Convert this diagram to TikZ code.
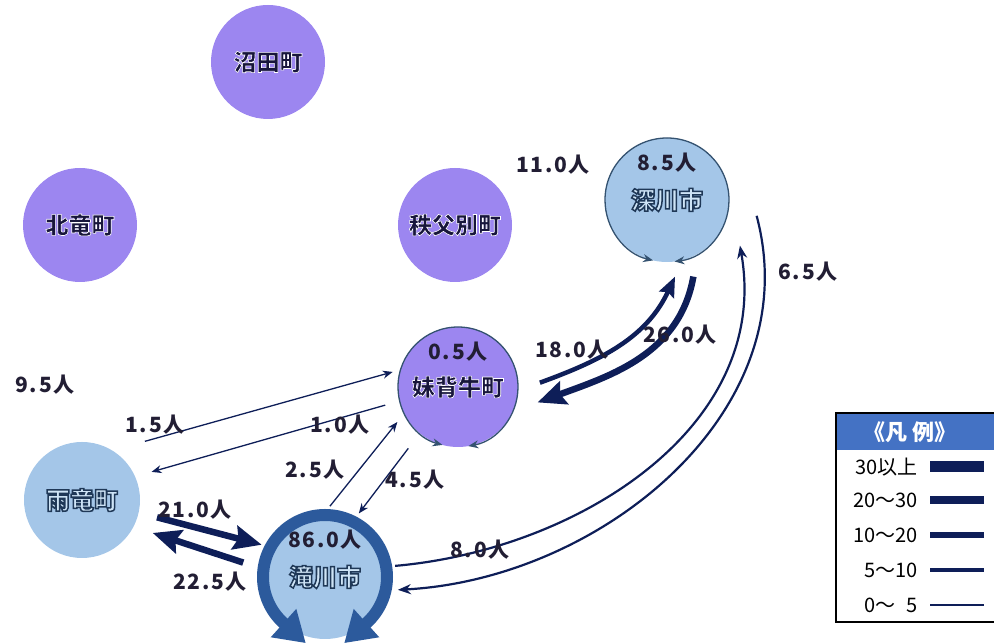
\documentclass[tikz,border=0pt]{standalone}
\usepackage{fontspec}
\setmainfont{Noto Sans CJK JP}
\newfontfamily\labfont[LetterSpace=8]{Noto Sans CJK JP}
\usetikzlibrary{arrows.meta,calc,positioning}

\definecolor{townpurple}{RGB}{156,134,240}
\definecolor{cityblue}{RGB}{164,198,232}
\definecolor{ringblue}{RGB}{44,90,156}
\definecolor{flownavy}{RGB}{14,30,88}
\definecolor{loopgrey}{RGB}{52,82,112}
\definecolor{headblue}{RGB}{68,114,196}
\definecolor{labdark}{RGB}{34,30,52}
\definecolor{namedark}{RGB}{24,22,60}
\definecolor{namelight}{RGB}{206,228,246}

% outlined names (fill + stroke in one text)
\newcommand{\townname}[1]{{\color{namedark}\special{pdf:code q 1 1 1 RG 2 Tr 0.6 w}#1\special{pdf:code Q}}}
\newcommand{\cityname}[1]{{\color{namelight}\special{pdf:code q 0.12 0.22 0.34 RG 2 Tr 1.5 w}#1\special{pdf:code Q}}}

\begin{document}
\begin{tikzpicture}[x=1pt,y=1pt,
  town/.style={circle,inner sep=0pt,minimum size=114pt,fill=townpurple,
    font=\fontsize{23}{26}\selectfont\bfseries},
  city/.style={circle,inner sep=0pt,fill=cityblue,
    font=\fontsize{24}{26}\selectfont\bfseries},
  cnt/.style={inner sep=1pt,text=labdark,font=\labfont\bfseries\fontsize{21}{24}\selectfont},
  loopline/.style={draw=loopgrey,line width=1.3pt,-{Stealth[length=10pt,width=8pt]}},
  ringline/.style={draw=ringblue,line width=12pt,-{Triangle[length=30pt,width=36pt]}},
  flowA/.style={draw=flownavy,line width=1.3pt,-{Stealth[length=10pt,width=8pt]}},
  flowB/.style={draw=flownavy,line width=2.2pt,-{Stealth[length=13pt,width=10pt]}},
  flowC/.style={draw=flownavy,line width=4.5pt,-{Stealth[length=20pt,width=16pt,inset=3pt]}},
  flowD/.style={draw=flownavy,line width=6.5pt,-{Stealth[length=28pt,width=24pt,inset=4pt]}},
  legtext/.style={anchor=east,inner sep=0pt,font=\fontsize{20}{22}\selectfont},
]
\useasboundingbox (0,0) rectangle (994,644);

\node[town] (numata) at (268,582) {\townname{沼田町}};
\node[town] (hokuryu) at (80,419) {\townname{北竜町}};
\node[town] (chippu) at (455,419) {\townname{秩父別町}};
\node[town,minimum size=120pt] (moseushi) at (458,257) {\townname{妹背牛町}};
\node[city,minimum size=124pt] (fukagawa) at (667,444) {\cityname{深川市}};
\node[city,minimum size=116pt] (uryu) at (82,144) {\cityname{雨竜町}};
\node[city,minimum size=124pt] (takikawa) at (325,67) {\cityname{滝川市}};

\node[cnt] (fukagawa-in) at ([yshift=37pt]fukagawa.center) {8.5人};
\node[cnt] (moseushi-in) at ([yshift=35pt]moseushi.center) {0.5人};
\node[cnt] (takikawa-in) at ([yshift=37pt]takikawa.center) {86.0人};

% flows within one place
\draw[loopline] ($(fukagawa)+(90:62pt)$) arc[start angle=90,end angle=257,radius=62pt];
\draw[loopline] ($(fukagawa)+(90:62pt)$) arc[start angle=90,end angle=-83,radius=62pt];
\draw[loopline] ($(moseushi)+(90:60pt)$) arc[start angle=90,end angle=255,radius=60pt];
\draw[loopline] ($(moseushi)+(90:60pt)$) arc[start angle=90,end angle=-80,radius=60pt];
\draw[ringline] ($(takikawa)+(90:62pt)$) arc[start angle=90,end angle=228,radius=62pt] -- ++(318:30pt);
\draw[ringline] ($(takikawa)+(90:62pt)$) arc[start angle=90,end angle=-48,radius=62pt] -- ++(222:30pt);

% flows between places
\draw[flowA] ($(uryu)+(43:86pt)$) -- ($(moseushi)+(167:67pt)$);
\draw[flowA] ($(moseushi)+(194:75pt)$) -- ($(uryu)+(22:75pt)$);
\draw[flowA] ($(takikawa)+(86:71pt)$) -- ($(moseushi)+(210:70pt)$);
\draw[flowA] ($(moseushi)+(231:79pt)$) -- ($(takikawa)+(62:72pt)$);
\draw[flowD] ($(uryu)+(-13:77pt)$) -- ($(takikawa)+(153:71pt)$);
\draw[flowD] ($(takikawa)+(170:83pt)$) -- ($(uryu)+(-25:78pt)$);
\draw[flowB] ($(takikawa)+(9:71pt)$) to[out=5,in=-80] ($(fukagawa)+(-32:86pt)$);
\draw[flowB] ($(fukagawa)+(-10:91pt)$) to[out=-75,in=3] ($(takikawa)+(-10:74pt)$);
\draw[flowC] ($(moseushi)+(3:82pt)$) to[out=20,in=-115] ($(fukagawa)+(-84:77pt)$);
\draw[flowD] ($(fukagawa)+(-71:81pt)$) to[out=-100,in=20] ($(moseushi)+(-11:81pt)$);

\node[cnt] (lab-fuka) at (553,479) {11.0人};
\node[cnt] (lab-uryu) at (45,259) {9.5人};
\node[cnt] (lab-fm) at (808,372) {6.5人};
\node[cnt] (lab-mf) at (572,294) {18.0人};
\node[cnt] (lab-fmo) at (680,309) {26.0人};
\node[cnt] (lab-um) at (155,219) {1.5人};
\node[cnt] (lab-mu) at (340,219) {1.0人};
\node[cnt] (lab-tm) at (315,174) {2.5人};
\node[cnt] (lab-mt) at (415,164) {4.5人};
\node[cnt] (lab-ut) at (195,134) {21.0人};
\node[cnt] (lab-tu) at (210,62) {22.5人};
\node[cnt] (lab-tf) at (480,94) {8.0人};

% legend
\fill[headblue] (836,194) rectangle (1000,231);
\draw[line width=1.5pt] (836,22) rectangle (1000,231);
\node[text=white,font=\fontsize{22}{24}\selectfont\bfseries] (legend-title) at (910,212) {《凡 例》};
\foreach \txt/\yy/\w in {30以上/177/11,20〜30/144/8,10〜20/109/6,5〜10/74/3.5,0〜\hphantom{1}5/39/2}{
  \node[legtext] at (918,\yy) {\txt};
  \draw[flownavy,line width=\w pt] (930,\yy) -- (984,\yy);
}
\end{tikzpicture}
\end{document}
